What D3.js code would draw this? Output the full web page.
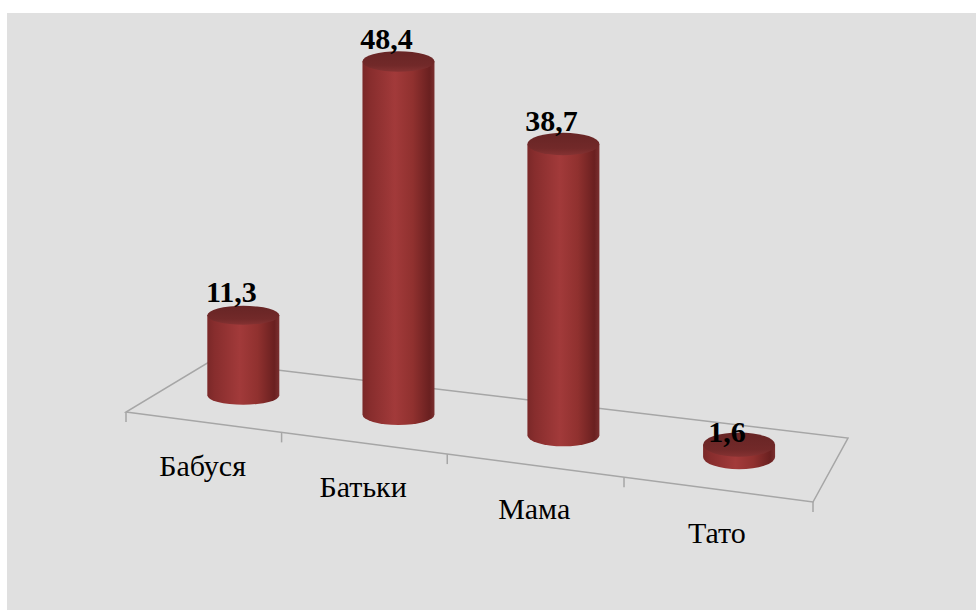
<!DOCTYPE html>
<meta charset="utf-8">
<style>
  body { margin: 0; background: #fff; }
  svg { display: block; }
</style>
<body>
<script src="https://cdn.jsdelivr.net/npm/d3@7"></script>
<script>

// data
var categories = ["Бабуся", "Батьки", "Мама", "Тато"];
var values = [11.3, 48.4, 38.7, 1.6];
var valueLabels = ["11,3", "48,4", "38,7", "1,6"];

var width = 977,
    height = 610;

var svg = d3.select("body").append("svg")
    .attr("width", width)
    .attr("height", height);

// chart area background
svg.append("rect")
    .attr("x", 7).attr("y", 13)
    .attr("width", width - 8).attr("height", height - 13)
    .attr("fill", "#e0e0e0");

// floor corners on screen: front-left, front-right, back-right, back-left
var corners = [[126, 412], [813, 502], [848, 438], [209, 362]];

// square -> quad homography (u along categories, v into depth)
function makeHomography(q) {
  var x0 = q[0][0], y0 = q[0][1], x1 = q[1][0], y1 = q[1][1],
      x2 = q[2][0], y2 = q[2][1], x3 = q[3][0], y3 = q[3][1];
  var dx1 = x1 - x2, dy1 = y1 - y2, dx2 = x3 - x2, dy2 = y3 - y2,
      dx3 = x0 - x1 + x2 - x3, dy3 = y0 - y1 + y2 - y3;
  var den = dx1 * dy2 - dx2 * dy1;
  var g = (dx3 * dy2 - dx2 * dy3) / den,
      h = (dx1 * dy3 - dx3 * dy1) / den;
  var a = x1 - x0 + g * x1, b = x3 - x0 + h * x3, c = x0,
      d = y1 - y0 + g * y1, e = y3 - y0 + h * y3, f = y0;
  return function(u, v) {
    var w = g * u + h * v + 1;
    return { x: (a * u + b * v + c) / w, y: (d * u + e * v + f) / w, s: 1 / w };
  };
}
var project = makeHomography(corners);

var x = d3.scaleBand().domain(categories).range([0, 1]);
// height in px per unit (before perspective)
var y = d3.scaleLinear().domain([0, 50]).range([0, 363]);
var ryScale = d3.scaleLinear().domain([0, 1]).range([9, 12.5]);
var rx = 36;

// floor outline
var floor = svg.append("g");
floor.append("path")
    .attr("d", "M" + corners.join("L") + "Z")
    .attr("fill", "none")
    .attr("stroke", "#a6a6a6")
    .attr("stroke-width", 1.5);

// ticks on the front edge
var tickU = d3.range(categories.length + 1).map(function(i) { return i / categories.length; });
floor.selectAll("line.tick")
  .data(tickU)
  .enter().append("line")
    .attr("class", "tick")
    .attr("x1", function(u) { return project(u, 0).x; })
    .attr("x2", function(u) { return project(u, 0).x; })
    .attr("y1", function(u) { return project(u, 0).y; })
    .attr("y2", function(u) { return project(u, 0).y + 10; })
    .attr("stroke", "#a6a6a6")
    .attr("stroke-width", 1.5);

// category labels
svg.selectAll("text.cat")
  .data(categories)
  .enter().append("text")
    .attr("class", "cat")
    .attr("x", function(d) { return project(x(d) + x.bandwidth() / 2, 0).x; })
    .attr("y", function(d) { return project(x(d) + x.bandwidth() / 2, 0).y + 54; })
    .attr("text-anchor", "middle")
    .style("font-family", "'Liberation Serif'")
    .style("font-size", "30px")
    .attr("fill", "#000")
    .text(function(d) { return d; });

// gradients
var defs = svg.append("defs");
var bodyGrad = defs.append("linearGradient")
    .attr("id", "body").attr("x1", 0).attr("x2", 1).attr("y1", 0).attr("y2", 0);
[[0, "#7a2828"], [0.1, "#872d2d"], [0.45, "#a23a3a"], [0.7, "#90312f"], [0.93, "#6a2020"], [1, "#7a3030"]]
  .forEach(function(s) { bodyGrad.append("stop").attr("offset", s[0]).attr("stop-color", s[1]); });
var topGrad = defs.append("linearGradient")
    .attr("id", "top").attr("x1", 0).attr("x2", 0).attr("y1", 0).attr("y2", 1);
[[0, "#672525"], [0.7, "#722929"], [1, "#853232"]]
  .forEach(function(s) { topGrad.append("stop").attr("offset", s[0]).attr("stop-color", s[1]); });

var bars = categories.map(function(c, i) {
  var u = x(c) + x.bandwidth() / 2;
  var p = project(u, 0.5);
  var h = y(values[i]) * p.s;
  return { cx: p.x, by: p.y, ty: p.y - h, h: h, ry: ryScale(u), label: valueLabels[i] };
});

var cyl = svg.selectAll("g.bar")
  .data(bars)
  .enter().append("g")
    .attr("class", "bar");

cyl.append("path")
    .attr("d", function(d) {
      return "M" + (d.cx - rx) + "," + d.ty +
             "L" + (d.cx - rx) + "," + d.by +
             "A" + rx + "," + d.ry + " 0 0 0 " + (d.cx + rx) + "," + d.by +
             "L" + (d.cx + rx) + "," + d.ty + "Z";
    })
    .attr("fill", "url(#body)");

cyl.append("ellipse")
    .attr("cx", function(d) { return d.cx; })
    .attr("cy", function(d) { return d.ty; })
    .attr("rx", rx)
    .attr("ry", function(d) { return d.ry; })
    .attr("fill", "url(#top)");

// value labels
cyl.append("text")
    .attr("x", function(d) { return d.cx - 12; })
    .attr("y", function(d) { return d.ty - Math.min(13, 0.2 * d.h); })
    .attr("text-anchor", "middle")
    .style("font-family", "'Liberation Serif'")
    .style("font-weight", "bold")
    .style("font-size", "30px")
    .attr("fill", "#000")
    .text(function(d) { return d.label; });

</script>
</body>
